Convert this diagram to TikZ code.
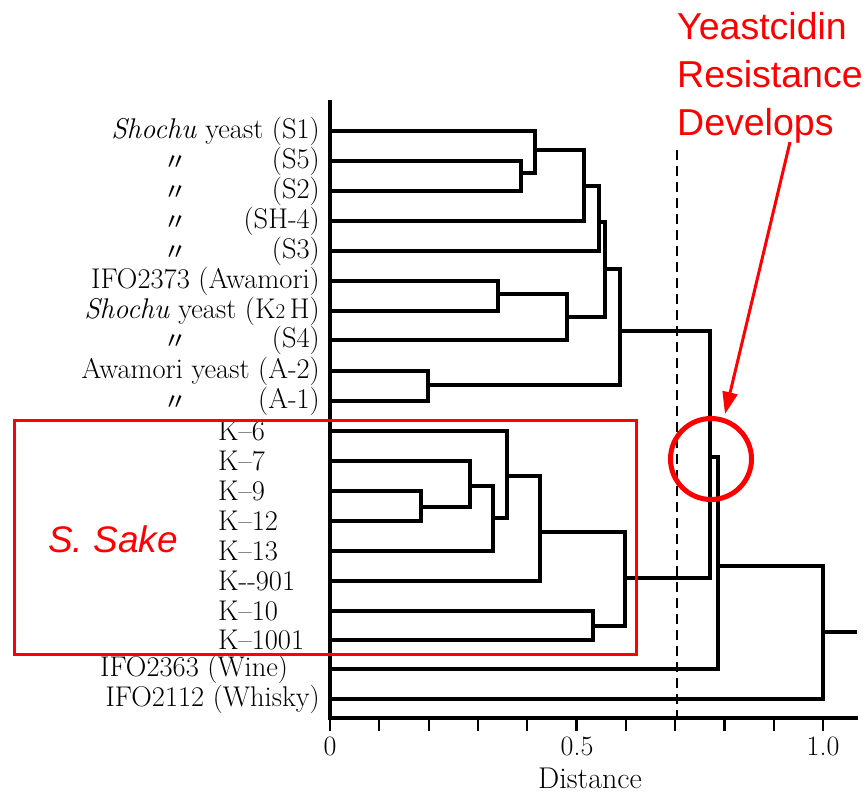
\documentclass[tikz,border=0pt]{standalone}
\usepackage{fontspec}
\usetikzlibrary{arrows.meta}
\newfontfamily\arialf{Liberation Sans}
\newfontfamily\cjkf{Noto Sans CJK JP}
\begin{document}
\begin{tikzpicture}[x=1pt,y=-1pt,
  tree/.style={line width=3.2pt, line join=miter},
  lbl/.style={anchor=east, inner sep=0pt, font=\fontsize{28.5}{33}\selectfont},
  klbl/.style={anchor=west, inner sep=0pt, font=\fontsize{28.5}{33}\selectfont},
  dit/.style={inner sep=0pt, font=\cjkf\fontsize{24}{28}\selectfont},
  ticklbl/.style={inner sep=0pt, font=\fontsize{28}{32}\selectfont},
  redbox/.style={draw=red, line width=3pt},
  redtxt/.style={text=red, inner sep=0pt, anchor=base west, font=\arialf\fontsize{37.5}{44}\selectfont}]
\useasboundingbox (0,0) rectangle (865,800);

% leaf y positions
\foreach \n/\y in {1/131,2/161,3/191,4/221,5/251,6/281,7/311,8/340,9/371,10/401,
  11/431,12/461,13/491,14/521,15/551,16/581,17/611,18/640,19/669,20/699}
  {\coordinate (L\n) at (330,\y);}

% labels
\node[lbl] (t1) at (320,131) {\textit{Shochu} yeast (S1)};
\node[lbl] (t2) at (320,161) {(S5)};
\node[lbl] (t3) at (320,191) {(S2)};
\node[lbl] (t4) at (320,221) {(SH-4)};
\node[lbl] (t5) at (320,251) {(S3)};
\node[lbl] (t6) at (320,281) {IFO2373 (Awamori)};
\node[lbl] (t7) at (320,311) {\textit{Shochu} yeast (K{\fontsize{21}{24}\selectfont 2}\,H)};
\node[lbl] (t8) at (320,340) {(S4)};
\node[lbl] (t9) at (320,371) {Awamori yeast (A-2)};
\node[lbl] (t10) at (320,401) {(A-1)};
\foreach \n/\y in {2/161,3/191,4/221,5/251,8/340,10/401}
  {\node[dit] (d\n) at (175,\y+2) {〃};}
\node[klbl] (t11) at (218,431) {K--6};
\node[klbl] (t12) at (218,461) {K--7};
\node[klbl] (t13) at (218,491) {K--9};
\node[klbl] (t14) at (218,521) {K--12};
\node[klbl] (t15) at (218,551) {K--13};
\node[klbl] (t16) at (218,581) {K-{}-901};
\node[klbl] (t17) at (218,611) {K--10};
\node[klbl] (t18) at (218,640) {K--1001};
\node[klbl] (t19) at (100,669) {IFO2363 (Wine)};
\node[lbl] (t20) at (320,699) {IFO2112 (Whisky)};

% junction points
\coordinate (a) at (521,173);
\coordinate (b) at (535,150);
\coordinate (c) at (584,186);
\coordinate (d) at (599,222);
\coordinate (e) at (498,294);
\coordinate (f) at (567,317);
\coordinate (g) at (605,269);
\coordinate (h) at (428,385);
\coordinate (i) at (620,331);
\coordinate (k1) at (421,507);
\coordinate (k2) at (470,486);
\coordinate (k3) at (493,518);
\coordinate (k4) at (507,476);
\coordinate (k5) at (540,532);
\coordinate (k6) at (593,626);
\coordinate (k7) at (625,578);
\coordinate (m) at (710,457);
\coordinate (n) at (718,566);
\coordinate (o) at (823,632);
\coordinate (root) at (857,632);

\draw[tree] (L2) -| (a) |- (L3);
\draw[tree] (L1) -| (b) |- (a);
\draw[tree] (b) -| (c) |- (L4);
\draw[tree] (c) -| (d) |- (L5);
\draw[tree] (L6) -| (e) |- (L7);
\draw[tree] (e) -| (f) |- (L8);
\draw[tree] (d) -| (g) |- (f);
\draw[tree] (L9) -| (h) |- (L10);
\draw[tree] (g) -| (i) |- (h);
\draw[tree] (L13) -| (k1) |- (L14);
\draw[tree] (L12) -| (k2) |- (k1);
\draw[tree] (k2) -| (k3) |- (L15);
\draw[tree] (L11) -| (k4) |- (k3);
\draw[tree] (k4) -| (k5) |- (L16);
\draw[tree] (L17) -| (k6) |- (L18);
\draw[tree] (k5) -| (k7) |- (k6);
\draw[tree] (i) -| (m) |- (k7);
\draw[tree] (m) -| (n) |- (L19);
\draw[tree] (n) -| (o) |- (L20);
\draw[tree] (o) -- (root);

% axis
\coordinate (ax0) at (330,718);
\coordinate (axe) at (858,718);
\coordinate (top) at (330,100);
\draw[tree] (top) -- (ax0) -- (axe);
\foreach \k in {0,...,10}
  {\draw[line width=2.2pt] (330+49.3*\k,718) -- (330+49.3*\k,731);}
\node[ticklbl] (x0) at (330,746) {0};
\node[ticklbl] (x5) at (577,746) {0.5};
\node[ticklbl] (x10) at (823,746) {1.0};
\node[ticklbl, font=\fontsize{30}{34}\selectfont] (xl) at (590,778) {Distance};

% dashed cut line
\coordinate (dtop) at (677,150);
\coordinate (dbot) at (677,718);
\draw[line width=2pt, dash pattern=on 10pt off 6pt] (dtop) -- (dbot);

% red annotations
\draw[redbox] (14,420) rectangle (636,654);
\node[redtxt, font=\arialf\itshape\fontsize{37}{44}\selectfont] (sake) at (48,552) {S. Sake};
\node[redtxt] (y1) at (677,40) {Yeastcidin};
\node[redtxt] (y2) at (677,88) {Resistance};
\node[redtxt] (y3) at (677,135) {Develops};
\node[draw=red, line width=5pt, circle, minimum size=81pt, inner sep=0pt] (circ) at (711,459) {};
\coordinate (arrS) at (790,142);
\coordinate (arrT) at (725,414);
\draw[red, line width=3pt, -{Triangle[length=22pt,width=15pt]}] (arrS) -- (arrT);
\end{tikzpicture}
\end{document}
